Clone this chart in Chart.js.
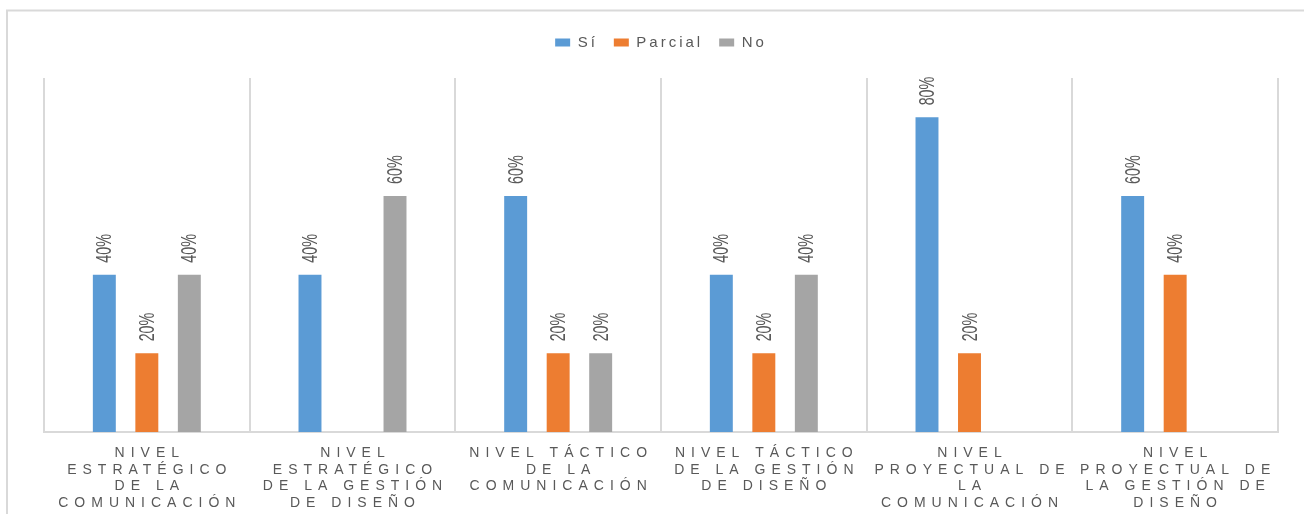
<!DOCTYPE html>
<html>
<head>
<meta charset="utf-8">
<script src="https://cdn.jsdelivr.net/npm/chart.js@4/dist/chart.umd.min.js"></script>
<style>
  html, body { margin: 0; padding: 0; background: #fff; }
  #wrap { width: 1304px; height: 514px; }
</style>
</head>
<body>
<div id="wrap"><canvas id="chart" width="1304" height="514"></canvas></div>
<script>
// categories (one array of lines per category, as wrapped in the original)
const categories = [
  ['NIVEL', 'ESTRATÉGICO', 'DE LA', 'COMUNICACIÓN'],
  ['NIVEL', 'ESTRATÉGICO', 'DE LA GESTIÓN', 'DE DISEÑO'],
  ['NIVEL TÁCTICO', 'DE LA', 'COMUNICACIÓN'],
  ['NIVEL TÁCTICO', 'DE LA GESTIÓN', 'DE DISEÑO'],
  ['NIVEL', 'PROYECTUAL DE', 'LA', 'COMUNICACIÓN'],
  ['NIVEL', 'PROYECTUAL DE', 'LA GESTIÓN DE', 'DISEÑO']
];
const seriesNames = ['Sí', 'Parcial', 'No'];
const siValues = [40, 40, 60, 40, 80, 60];
const parcialValues = [20, 0, 20, 20, 20, 40];
const noValues = [40, 60, 20, 40, 0, 0];
const colors = ['#5B9BD5', '#ED7D31', '#A5A5A5'];

const textGray = '#595959';
const lineGray = '#D9D9D9';

// frame, data labels and spaced category labels
const decorPlugin = {
  id: 'decor',
  beforeInit(chart) {
    const fit = chart.legend.fit;
    chart.legend.fit = function () {
      fit.call(this);
      this.height += 18;
    };
  },
  beforeUpdate(chart) {
    chart.ctx.letterSpacing = '3px';
  },
  beforeDraw(chart) {
    const ctx = chart.ctx;
    ctx.letterSpacing = '3px';
    ctx.save();
    ctx.strokeStyle = lineGray;
    ctx.lineWidth = 2;
    ctx.beginPath();
    ctx.moveTo(7, 514);
    ctx.lineTo(7, 10.5);
    ctx.lineTo(1304, 10.5);
    ctx.stroke();
    ctx.restore();
  },
  afterDraw(chart) {
    const ctx = chart.ctx;
    const x = chart.scales.x;
    // data labels
    ctx.save();
    ctx.letterSpacing = '0px';
    ctx.fillStyle = textGray;
    ctx.font = '22px "Liberation Sans", Arial, sans-serif';
    ctx.textAlign = 'left';
    ctx.textBaseline = 'middle';
    chart.data.datasets.forEach((ds, di) => {
      const meta = chart.getDatasetMeta(di);
      meta.data.forEach((bar, i) => {
        const v = ds.data[i];
        if (!v) return;
        ctx.save();
        ctx.translate(bar.x + 1, bar.y - 12);
        ctx.rotate(-Math.PI / 2);
        ctx.scale(0.65, 1);
        ctx.fillText(v + '%', 0, 0);
        ctx.restore();
      });
    });
    ctx.restore();

    // category labels
    ctx.save();
    const sp = 6;
    ctx.letterSpacing = sp + 'px';
    ctx.fillStyle = textGray;
    ctx.font = '14px "Liberation Sans", Arial, sans-serif';
    ctx.textAlign = 'center';
    ctx.textBaseline = 'middle';
    categories.forEach((lines, i) => {
      const cx = x.getPixelForValue(i) + sp / 2;
      lines.forEach((ln, j) => {
        ctx.fillText(ln, cx, 453 + j * 16.8);
      });
    });
    ctx.restore();
  }
};

new Chart(document.getElementById('chart'), {
  type: 'bar',
  data: {
    labels: categories.map(c => c.join(' ')),
    datasets: [
      { label: seriesNames[0], data: siValues, backgroundColor: colors[0] },
      { label: seriesNames[1], data: parcialValues, backgroundColor: colors[1] },
      { label: seriesNames[2], data: noValues, backgroundColor: colors[2] }
    ]
  },
  options: {
    responsive: false,
    animation: false,
    events: [],
    categoryPercentage: 0.62,
    barPercentage: 0.54,
    layout: { padding: { top: 19, left: 44, right: 26, bottom: 82 } },
    plugins: {
      legend: {
        position: 'top',
        labels: {
          boxWidth: 15,
          boxHeight: 8,
          padding: 16,
          color: textGray,
          font: { family: '"Liberation Sans", Arial, sans-serif', size: 15 }
        }
      },
      tooltip: { enabled: false }
    },
    scales: {
      x: {
        offset: true,
        grid: { display: true, offset: true, color: lineGray, lineWidth: 2, drawTicks: false },
        border: { display: true, color: lineGray, width: 2 },
        ticks: { display: false }
      },
      y: {
        display: false,
        min: 0,
        max: 90
      }
    }
  },
  plugins: [decorPlugin]
});
</script>
</body>
</html>
